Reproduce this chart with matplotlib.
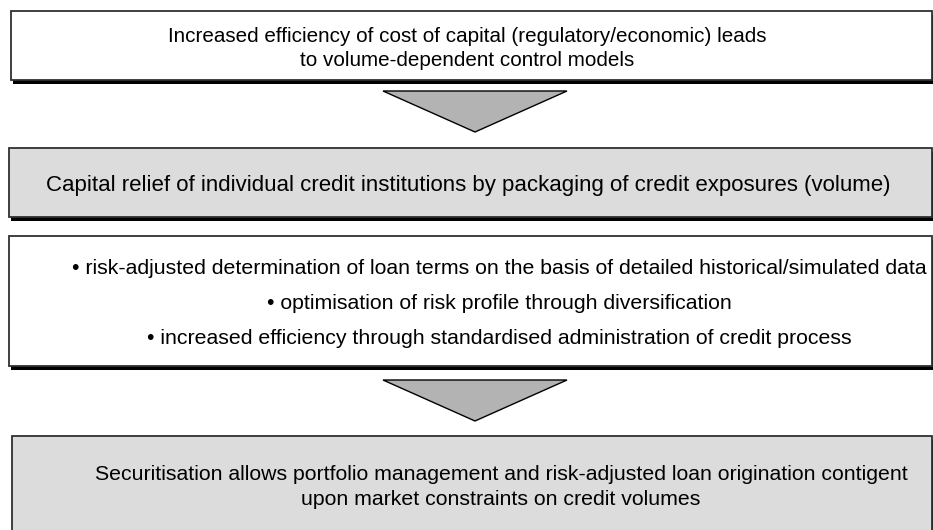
import matplotlib
matplotlib.use('Agg')
import matplotlib.pyplot as plt
from matplotlib.patches import Rectangle, Polygon

plt.rcParams['font.family'] = ['Liberation Sans', 'DejaVu Sans']

# text of the four boxes, top to bottom
box_texts = [
    ['Increased efficiency of cost of capital (regulatory/economic) leads',
     'to volume-dependent control models'],
    ['Capital relief of individual credit institutions by packaging of credit exposures (volume)'],
    ['\u2022 risk-adjusted determination of loan terms on the basis of detailed historical/simulated data',
     '\u2022 optimisation of risk profile through diversification',
     '\u2022 increased efficiency through standardised administration of credit process'],
    ['Securitisation allows portfolio management and risk-adjusted loan origination contigent',
     'upon market constraints on credit volumes'],
]
box_fills = ['white', '#dcdcdc', 'white', '#dcdcdc']

# layout in pixels: (left, top, bottom, text centre x, first baseline y, line step, font size)
box_geom = [
    (11, 11, 80, 467, 41.5, 25, 14.9),
    (9, 148, 217, 468, 190.5, 25, 16.0),
    (9, 236, 366, 499, 273.5, 35.3, 15.3),
    (12, 436, 560, 501, 480, 25, 15.3),
]
arrow_tops = [91, 380]

fig = plt.figure(figsize=(9.33, 5.30), dpi=100)
ax = fig.add_axes([0, 0, 1, 1])
ax.set_xlim(0, 933)
ax.set_ylim(530, 0)
ax.axis('off')

right = 932
for lines, fill, (left, top, bottom, cx, y0, step, fs) in zip(box_texts, box_fills, box_geom):
    # drop shadow
    ax.add_patch(Rectangle((left + 2, top + 4), right - left, bottom - top,
                           facecolor='black', edgecolor='none', zorder=1))
    ax.add_patch(Rectangle((left, top), right - left, bottom - top,
                           facecolor=fill, edgecolor='#303030', linewidth=1.3, zorder=2))
    for i, t in enumerate(lines):
        ax.text(cx, y0 + i * step, t, ha='center', va='baseline',
                fontsize=fs, color='black', zorder=3)

for top in arrow_tops:
    ax.add_patch(Polygon([(383, top), (567, top), (475, top + 41)], closed=True,
                         facecolor='#b3b3b3', edgecolor='black', linewidth=1.0, zorder=2))

fig.savefig('out.png', dpi=100)
